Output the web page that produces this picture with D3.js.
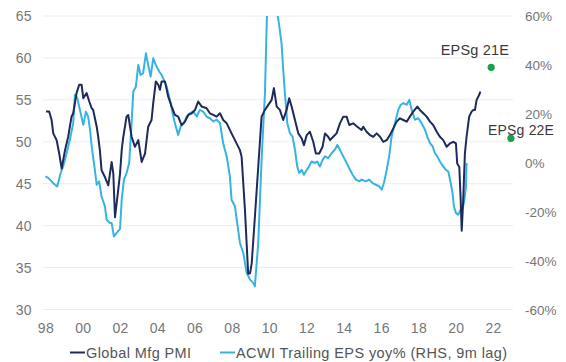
<!DOCTYPE html>
<html>
<head>
<meta charset="utf-8">
<script src="https://cdn.jsdelivr.net/npm/d3@7"></script>
<style>
  html, body { margin: 0; padding: 0; background: #ffffff; }
  svg { display: block; font-family: "Liberation Sans", Arial, sans-serif; }
</style>
</head>
<body>
<svg id="chart" width="566" height="362"></svg>
<script>
// Global manufacturing PMI (left axis)
const pmiDates = [
  1998.03, 1998.20, 1998.33, 1998.42, 1998.60, 1998.74, 1998.87, 1999.05, 1999.22, 1999.40,
  1999.49, 1999.67, 1999.81, 1999.94, 2000.03, 2000.21, 2000.35, 2000.48, 2000.56, 2000.75,
  2000.83, 2000.92, 2001.01, 2001.19, 2001.37, 2001.55, 2001.64, 2001.73, 2001.90, 2002.00,
  2002.09, 2002.17, 2002.35, 2002.44, 2002.62, 2002.80, 2002.98, 2003.16, 2003.34, 2003.51,
  2003.69, 2003.78, 2003.92, 2004.05, 2004.14, 2004.23, 2004.41, 2004.58, 2004.77, 2004.94,
  2005.12, 2005.30, 2005.48, 2005.66, 2005.84, 2006.02, 2006.19, 2006.38, 2006.64, 2006.82,
  2007.00, 2007.18, 2007.36, 2007.53, 2007.72, 2007.98, 2008.16, 2008.43, 2008.52, 2008.61,
  2008.70, 2008.79, 2008.87, 2008.97, 2009.06, 2009.23, 2009.41, 2009.59, 2009.77, 2009.95,
  2010.13, 2010.25, 2010.40, 2010.57, 2010.75, 2010.93, 2011.07, 2011.20, 2011.38, 2011.56,
  2011.74, 2011.86, 2012.01, 2012.18, 2012.36, 2012.50, 2012.68, 2012.86, 2012.99, 2013.16,
  2013.26, 2013.43, 2013.61, 2013.79, 2013.97, 2014.15, 2014.29, 2014.50, 2014.72, 2014.95,
  2015.04, 2015.22, 2015.40, 2015.58, 2015.76, 2015.94, 2016.11, 2016.30, 2016.47, 2016.65,
  2016.83, 2017.01, 2017.19, 2017.37, 2017.54, 2017.72, 2017.94, 2018.08, 2018.26, 2018.44,
  2018.62, 2018.79, 2018.98, 2019.15, 2019.33, 2019.51, 2019.69, 2019.87, 2020.01, 2020.08,
  2020.19, 2020.26, 2020.32, 2020.40, 2020.49, 2020.58, 2020.72, 2020.85, 2020.94, 2021.03,
  2021.12, 2021.26, 2021.32
];
const pmiValues = [
  53.6, 53.6, 52.6, 51.0, 50.2, 48.6, 46.8, 49.0, 50.6, 53.0,
  53.4, 55.8, 56.8, 56.8, 55.2, 55.8, 54.8, 54.0, 53.8, 51.8,
  50.6, 49.0, 46.6, 45.8, 44.8, 47.6, 46.2, 41.0, 44.2, 46.2,
  49.0, 50.5, 53.0, 53.2, 50.6, 49.4, 50.2, 47.6, 48.6, 51.8,
  52.6, 54.6, 57.2, 56.8, 56.2, 57.2, 57.2, 55.4, 54.2, 53.2,
  53.0, 52.0, 52.4, 53.2, 53.4, 53.8, 54.8, 54.2, 54.0, 53.4,
  53.2, 53.0, 53.4, 52.6, 52.2, 51.0, 50.2, 49.0, 48.2, 45.0,
  41.8, 37.8, 34.3, 34.3, 35.5, 41.0, 47.0, 53.0, 53.8, 54.4,
  55.0, 56.4, 54.2, 53.8, 52.6, 53.8, 55.2, 54.2, 52.6, 51.0,
  50.4, 49.6, 50.8, 51.2, 50.0, 48.6, 48.6, 49.4, 51.0, 50.6,
  50.2, 50.6, 51.0, 52.2, 53.0, 53.0, 52.0, 52.2, 51.8, 51.4,
  51.8, 51.2, 50.8, 50.6, 51.0, 50.6, 50.0, 50.2, 50.8, 51.6,
  52.4, 52.8, 52.6, 52.4, 53.0, 53.6, 54.2, 53.8, 53.4, 53.0,
  52.4, 52.0, 51.2, 50.6, 50.2, 49.4, 49.8, 50.0, 49.8, 47.4,
  47.0, 43.4, 39.4, 43.0, 48.6, 50.6, 53.0, 53.6, 53.8, 53.8,
  55.0, 55.6, 56.0
];

// ACWI trailing EPS growth, % yoy, shifted forward 9 months (right axis)
const epsDates = [
  1998.00, 1998.15, 1998.33, 1998.51, 1998.63, 1998.82, 1998.95, 1999.14, 1999.31, 1999.49,
  1999.58, 1999.71, 1999.85, 2000.03, 2000.17, 2000.29, 2000.39, 2000.48, 2000.65, 2000.75,
  2000.88, 2001.01, 2001.19, 2001.28, 2001.46, 2001.55, 2001.67, 2001.82, 2002.00, 2002.09,
  2002.21, 2002.35, 2002.49, 2002.62, 2002.71, 2002.85, 2002.98, 2003.10, 2003.24, 2003.39,
  2003.51, 2003.64, 2003.78, 2003.92, 2004.10, 2004.23, 2004.35, 2004.50, 2004.68, 2004.82,
  2004.94, 2005.12, 2005.25, 2005.43, 2005.57, 2005.75, 2005.92, 2006.11, 2006.28, 2006.46,
  2006.64, 2006.82, 2007.00, 2007.18, 2007.36, 2007.53, 2007.72, 2007.89, 2007.98, 2008.16,
  2008.28, 2008.43, 2008.61, 2008.79, 2008.97, 2009.14, 2009.23, 2009.41, 2009.59, 2009.77,
  2009.86, 2009.96, 2010.09, 2010.25, 2010.41, 2010.52, 2010.66, 2010.75, 2010.84, 2010.97,
  2011.11, 2011.25, 2011.38, 2011.50, 2011.61, 2011.74, 2011.86, 2012.01, 2012.14, 2012.27,
  2012.45, 2012.57, 2012.72, 2012.86, 2012.99, 2013.16, 2013.35, 2013.52, 2013.65, 2013.79,
  2013.97, 2014.15, 2014.33, 2014.47, 2014.65, 2014.83, 2014.95, 2015.18, 2015.36, 2015.54,
  2015.72, 2015.90, 2016.03, 2016.15, 2016.30, 2016.43, 2016.56, 2016.74, 2016.92, 2017.05,
  2017.19, 2017.37, 2017.51, 2017.64, 2017.81, 2017.99, 2018.17, 2018.35, 2018.47, 2018.62,
  2018.76, 2018.88, 2019.01, 2019.15, 2019.33, 2019.47, 2019.60, 2019.73, 2019.83, 2019.90,
  2020.01, 2020.13, 2020.26, 2020.37, 2020.44, 2020.55, 2020.58
];
const epsValues = [
  -5.6, -6.2, -7.6, -9.0, -9.7, -4.2, -1.5, 4.0, 9.4, 16.2,
  27.8, 26.4, 21.6, 15.5, 20.9, 18.9, 13.5, 6.7, -2.9, -9.0,
  -7.6, -13.8, -17.8, -23.3, -24.6, -24.6, -30.1, -28.7, -27.0, -15.1,
  -6.9, -4.2, -0.1, 16.2, 29.1, 31.1, 40.0, 35.9, 36.6, 44.8,
  40.0, 35.2, 42.7, 40.0, 37.3, 35.9, 33.9, 31.1, 25.7, 20.3,
  16.2, 11.4, 14.8, 16.2, 18.9, 20.3, 20.9, 18.9, 21.6, 20.9,
  18.9, 18.2, 16.9, 17.6, 16.2, 8.0, 2.6, -5.6, -15.1, -17.8,
  -24.6, -32.8, -36.9, -45.0, -47.8, -49.1, -50.5, -32.8, 1.2, 28.4,
  55.6, 80.0, 95.0, 80.0, 62.0, 57.0, 48.8, 38.0, 28.4, 16.2,
  12.1, 10.7, 5.3, -1.5, -4.2, -2.9, -4.9, -2.9, -1.5, 0.5,
  -0.1, 0.5, -1.5, 1.2, 2.6, 1.9, 4.0, 5.3, 7.3, 5.3,
  2.6, -0.1, -2.9, -4.9, -6.9, -7.6, -6.9, -7.6, -6.9, -8.3,
  -9.0, -9.7, -11.0, -8.3, -2.9, 2.6, 10.7, 16.2, 21.6, 23.7,
  24.4, 23.7, 25.7, 21.6, 17.6, 18.2, 16.2, 13.5, 10.7, 8.0,
  6.7, 4.0, 2.6, 0.5, -1.5, -2.9, -3.6, -8.3, -12.4, -17.8,
  -20.5, -21.2, -19.2, -18.5, -16.4, -9.7, -0.1
];

// Consensus EPS growth estimates (right axis)
const estLabels = ["EPSg 21E", "EPSg 22E"];
const estDates = [2021.9, 2022.96];
const estValues = [39, 10];

// Axis ticks
const xTickYears = d3.range(1998, 2023, 2);
const leftTicks = [30, 35, 40, 45, 50, 55, 60, 65];
const rightTicks = [-60, -40, -20, 0, 20, 40, 60];

const legendLabels = ["Global Mfg PMI", "ACWI Trailing EPS yoy% (RHS, 9m lag)"];

const colors = {
  pmi: "#1d2a5b",
  eps: "#35b4e3",
  est: "#17a24b",
  grid: "#ececec",
  tick: "#767676",
  legend: "#555555",
  note: "#3a3a3a"
};

const svg = d3.select("#chart");
const plot = { left: 43, right: 513, top: 16, bottom: 309.5 };

const x = d3.scaleLinear().domain([1997.87, 2023.07]).range([plot.left, plot.right]);
const yL = d3.scaleLinear().domain([30, 65]).range([plot.bottom, plot.top]);
const yR = d3.scaleLinear().domain([-60, 60]).range([plot.bottom, plot.top]);

// Gridlines at the left-axis ticks
svg.append("g")
  .selectAll("line")
  .data(leftTicks)
  .join("line")
  .attr("x1", plot.left).attr("x2", plot.right)
  .attr("y1", d => yL(d)).attr("y2", d => yL(d))
  .attr("stroke", colors.grid).attr("stroke-width", 1);

// Left axis
const axL = svg.append("g")
  .attr("transform", `translate(${plot.left - 11},0)`)
  .call(d3.axisLeft(yL).tickValues(leftTicks).tickSize(0).tickPadding(0));
axL.select(".domain").remove();
axL.selectAll("text")
  .attr("fill", colors.tick).style("font-size", "14px")
  .style("letter-spacing", "0.4px")
  .attr("dy", "0.35em");

// Right axis
const axR = svg.append("g")
  .attr("transform", `translate(${plot.right + 12},0)`)
  .call(d3.axisRight(yR).tickValues(rightTicks).tickSize(0).tickPadding(0)
    .tickFormat(d => d + "%"));
axR.select(".domain").remove();
axR.selectAll("text")
  .attr("fill", colors.tick).style("font-size", "13.5px")
  .attr("dy", "0.35em");

// Bottom axis
const axB = svg.append("g")
  .attr("transform", `translate(0,${plot.bottom + 14})`)
  .call(d3.axisBottom(x).tickValues(xTickYears).tickSize(0).tickPadding(0)
    .tickFormat(d => String(d % 100).padStart(2, "0")));
axB.select(".domain").remove();
axB.selectAll("text")
  .attr("fill", colors.tick).style("font-size", "14px")
  .style("letter-spacing", "0.3px")
  .attr("dy", "0.71em");

// Clip the series to the plot area
svg.append("clipPath").attr("id", "plotClip")
  .append("rect")
  .attr("x", plot.left).attr("y", plot.top)
  .attr("width", plot.right - plot.left).attr("height", plot.bottom - plot.top);

const series = svg.append("g").attr("clip-path", "url(#plotClip)");

const epsLine = d3.line()
  .x((d, i) => x(epsDates[i]))
  .y(d => yR(d));
const pmiLine = d3.line()
  .x((d, i) => x(pmiDates[i]))
  .y(d => yL(d));

series.append("path")
  .datum(epsValues)
  .attr("d", epsLine)
  .attr("fill", "none")
  .attr("stroke", colors.eps)
  .attr("stroke-width", 2)
  .attr("stroke-linejoin", "round");

series.append("path")
  .datum(pmiValues)
  .attr("d", pmiLine)
  .attr("fill", "none")
  .attr("stroke", colors.pmi)
  .attr("stroke-width", 2)
  .attr("stroke-linejoin", "round");

// Estimate markers with labels
const est = svg.append("g");
est.selectAll("circle")
  .data(estValues)
  .join("circle")
  .attr("cx", (d, i) => x(estDates[i]))
  .attr("cy", d => yR(d))
  .attr("r", 3.6)
  .attr("fill", colors.est);

const labelOffsets = [
  { dx: 18, dy: -12, anchor: "end", size: "14.5px" },
  { dx: -23, dy: -3, anchor: "start", size: "14px" }
];
est.selectAll("text")
  .data(estValues)
  .join("text")
  .attr("x", (d, i) => x(estDates[i]) + labelOffsets[i].dx)
  .attr("y", d => yR(d))
  .attr("dy", (d, i) => labelOffsets[i].dy)
  .attr("text-anchor", (d, i) => labelOffsets[i].anchor)
  .attr("fill", colors.note)
  .style("font-size", (d, i) => labelOffsets[i].size)
  .style("letter-spacing", "0.2px")
  .text((d, i) => estLabels[i]);

// Legend
const legendX = [70, 220];
const legendColors = [colors.pmi, colors.eps];
const legend = svg.append("g");
legendLabels.forEach((label, i) => {
  legend.append("line")
    .attr("x1", legendX[i]).attr("x2", legendX[i] + 15)
    .attr("y1", 352.5).attr("y2", 352.5)
    .attr("stroke", legendColors[i]).attr("stroke-width", 2);
  legend.append("text")
    .attr("x", legendX[i] + 16).attr("y", 357.5)
    .attr("fill", colors.legend)
    .style("font-size", "14.5px")
    .style("letter-spacing", "0.4px")
    .text(label);
});
</script>
</body>
</html>
